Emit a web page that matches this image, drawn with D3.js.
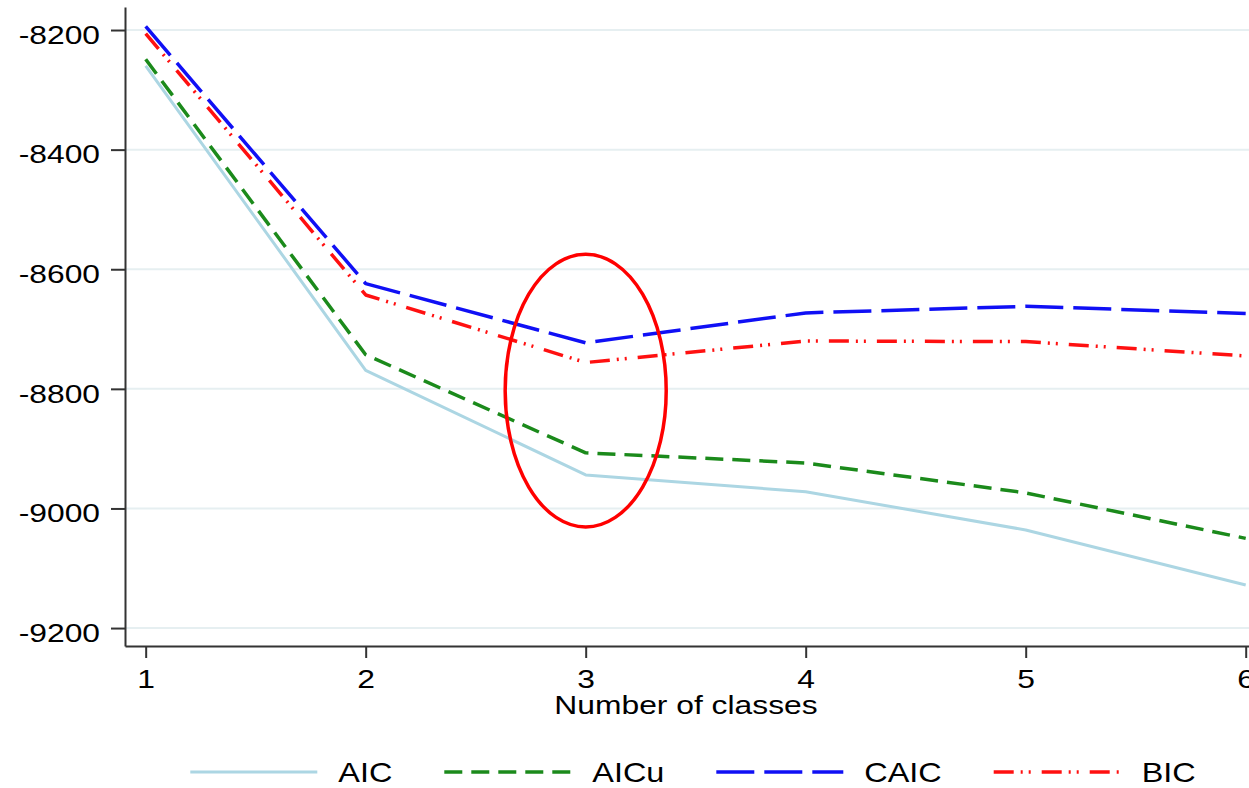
<!DOCTYPE html>
<html>
<head>
<meta charset="utf-8">
<script src="https://cdn.jsdelivr.net/npm/d3@7"></script>
<style>
  body { margin: 0; background: #fff; }
  svg { display: block; font-family: "Liberation Sans", Arial, sans-serif; }
</style>
</head>
<body>
<div id="chart"></div>
<script>
// data
var classes = [1, 2, 3, 4, 5, 6];
var aic  = [-8260, -8769, -8944, -8972, -9036, -9128];
var aicu = [-8249, -8743, -8907, -8924, -8974, -9050];
var caic = [-8194, -8624, -8723, -8673, -8662, -8674];
var bic  = [-8206, -8643, -8756, -8720, -8721, -8745];
var yTicks = [-8200, -8400, -8600, -8800, -9000, -9200];
var seriesNames = ["AIC", "AICu", "CAIC", "BIC"];
// red circle drawn around class 3 (centre x, centre y, half width in classes, half height in units)
var mark = { cx: 3, cy: -8803, rx: 0.366, ry: 228 };

var W = 1249, H = 788;
var sx = 1.2; // glyphs in the picture are stretched sideways

var styles = {
  "AIC":  { color: "#acd6e3", width: 3,   dash: null },
  "AICu": { color: "#1b8a1b", width: 3.5, dash: "18,9" },
  "CAIC": { color: "#1010f5", width: 3.5, dash: "38,10" },
  "BIC":  { color: "#ff1010", width: 3.5, dash: "20,7,2,6,2,11" }
};
var values = { "AIC": aic, "AICu": aicu, "CAIC": caic, "BIC": bic };

var svg = d3.select("#chart").append("svg")
    .attr("width", W)
    .attr("height", H);

var x = d3.scaleLinear().domain([0.906, 6.015]).range([125, 1249]);
var y = d3.scaleLinear().domain([-9230, -8161.5]).range([646, 7]);

// grid
svg.append("g").selectAll("line")
    .data(yTicks)
    .enter()
    .append("line")
    .attr("x1", 126).attr("x2", W)
    .attr("y1", function (d) { return y(d); })
    .attr("y2", function (d) { return y(d); })
    .attr("stroke", "#e6eff1")
    .attr("stroke-width", 2);

// series
var line = d3.line()
    .x(function (d, i) { return x(classes[i]); })
    .y(function (d) { return y(d); });

seriesNames.forEach(function (name) {
  var s = styles[name];
  svg.append("path")
      .datum(values[name])
      .attr("d", line)
      .attr("fill", "none")
      .attr("stroke", s.color)
      .attr("stroke-width", s.width)
      .attr("stroke-dasharray", s.dash)
      .attr("stroke-linejoin", "round");
});

// axes (plain hyphen for the minus sign, as in the picture)
var plain = function (d) { return String(d); };

var yAxis = d3.axisLeft(y).tickValues(yTicks).tickSize(14).tickSizeOuter(0).tickFormat(plain);
var gy = svg.append("g")
    .attr("transform", "translate(125,0)")
    .call(yAxis);
gy.selectAll("text")
    .attr("x", -25 / sx)
    .attr("dy", "0.5em")
    .attr("transform", "scale(" + sx + ",1)")
    .attr("font-size", "26.5px")
    .attr("font-family", "Liberation Sans, Arial, sans-serif")
    .attr("fill", "#000");

var xAxis = d3.axisBottom(x).tickValues(classes).tickSize(12).tickSizeOuter(0).tickFormat(plain);
var gx = svg.append("g")
    .attr("transform", "translate(0,646)")
    .call(xAxis);
gx.selectAll("text")
    .attr("y", 42)
    .attr("dy", 0)
    .attr("transform", "scale(" + sx + ",1)")
    .attr("font-size", "26.5px")
    .attr("font-family", "Liberation Sans, Arial, sans-serif")
    .attr("fill", "#000");

[gx, gy].forEach(function (g) {
  g.select(".domain").attr("stroke", "#333").attr("stroke-width", 2);
  g.selectAll(".tick line").attr("stroke", "#333").attr("stroke-width", 2);
});

svg.append("text")
    .attr("transform", "translate(686,714) scale(" + sx + ",1)")
    .attr("text-anchor", "middle")
    .attr("font-size", "26.5px")
    .attr("fill", "#000")
    .text("Number of classes");

// red circle annotation
svg.append("ellipse")
    .attr("cx", x(mark.cx))
    .attr("cy", y(mark.cy))
    .attr("rx", x(mark.cx + mark.rx) - x(mark.cx))
    .attr("ry", y(mark.cy - mark.ry) - y(mark.cy))
    .attr("fill", "none")
    .attr("stroke", "#ff0000")
    .attr("stroke-width", 3.5);

// legend
var legend = svg.append("g");
var lx = 0;
seriesNames.forEach(function (name) {
  var s = styles[name];
  var g = legend.append("g").attr("transform", "translate(" + lx + ",0)");
  g.append("line")
      .attr("x1", 0).attr("x2", 127)
      .attr("y1", 0).attr("y2", 0)
      .attr("stroke", s.color)
      .attr("stroke-width", s.width)
      .attr("stroke-dasharray", s.dash);
  var t = g.append("text")
      .attr("transform", "translate(148,10) scale(" + sx + ",1)")
      .attr("font-size", "27px")
      .attr("fill", "#000")
      .text(name);
  var tw = t.node().getComputedTextLength() * sx;
  lx += 148 + tw + 52;
});
var totalW = lx - 52;
legend.attr("transform", "translate(" + (693 - totalW / 2) + ",772)");
</script>
</body>
</html>
